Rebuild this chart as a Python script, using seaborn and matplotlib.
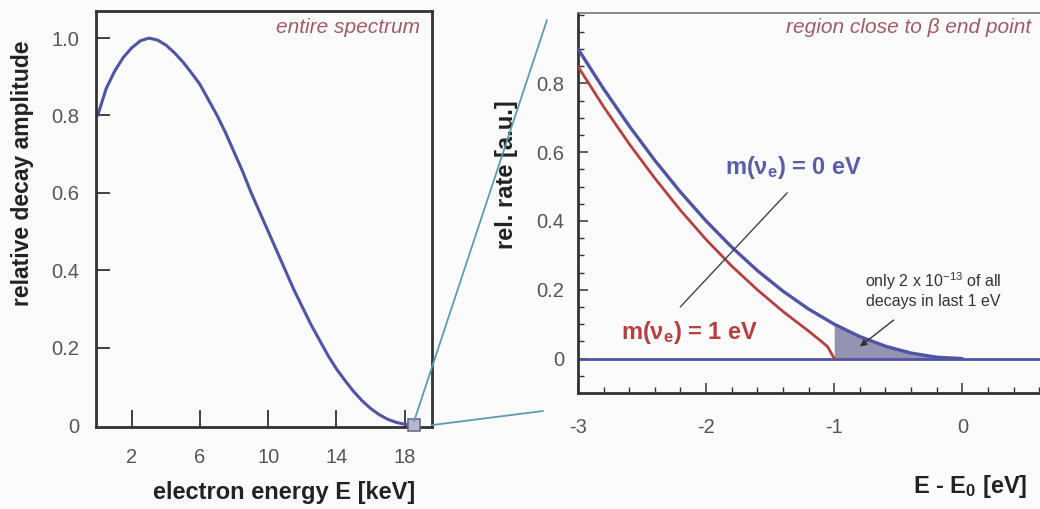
import numpy as np
import pandas as pd
import matplotlib
matplotlib.use("Agg")
import matplotlib.pyplot as plt
import seaborn as sns
from matplotlib.patches import ConnectionPatch
from matplotlib.ticker import MultipleLocator, FuncFormatter

# ---------------- data ----------------
energy_keV = [0.0, 0.5, 1.0, 1.5, 2.0, 2.5, 3.0, 3.5, 4.0, 4.5, 5.0, 5.5, 6.0, 6.5,
              7.0, 7.5, 8.0, 8.5, 9.0, 9.5, 10.0, 10.5, 11.0, 11.5, 12.0, 12.5,
              13.0, 13.5, 14.0, 14.5, 15.0, 15.5, 16.0, 16.5, 17.0, 17.5, 18.0, 18.6]
amplitude = [0.80, 0.87, 0.915, 0.95, 0.975, 0.993, 1.0, 0.995, 0.982, 0.962, 0.938,
             0.91, 0.88, 0.84, 0.80, 0.755, 0.705, 0.655, 0.60, 0.55, 0.50, 0.45,
             0.40, 0.35, 0.305, 0.26, 0.22, 0.18, 0.145, 0.115, 0.087, 0.063, 0.043,
             0.027, 0.015, 0.007, 0.002, 0.0]

dE_m0 = [-3.0, -2.8, -2.6, -2.4, -2.2, -2.0, -1.8, -1.6, -1.4, -1.2, -1.0, -0.8,
         -0.6, -0.4, -0.2, 0.0]
rate_m0 = [0.90, 0.784, 0.676, 0.576, 0.484, 0.40, 0.324, 0.256, 0.196, 0.144,
           0.10, 0.064, 0.036, 0.016, 0.004, 0.0]

dE_m1 = [-3.0, -2.8, -2.6, -2.4, -2.2, -2.0, -1.8, -1.6, -1.4, -1.2, -1.1, -1.05, -1.0]
rate_m1 = [0.849, 0.732, 0.624, 0.524, 0.431, 0.346, 0.269, 0.20, 0.137, 0.08,
           0.05, 0.034, 0.0]

endpoint_keV = 18.55
left_xticks = [2, 6, 10, 14, 18]
left_yticks = [0, 0.2, 0.4, 0.6, 0.8, 1.0]
right_xticks = [-3, -2, -1, 0]
right_yticks = [0, 0.2, 0.4, 0.6, 0.8]

# ---------------- styling ----------------
sns.set_theme(style="ticks")
plt.rcParams["font.family"] = ["Liberation Sans", "DejaVu Sans"]
plt.rcParams["mathtext.fontset"] = "custom"
plt.rcParams["mathtext.rm"] = "Liberation Sans"
plt.rcParams["mathtext.bf"] = "Liberation Sans:bold"
plt.rcParams["mathtext.it"] = "Liberation Sans:italic"

BLUE = "#4f55a3"
RED = "#b5403f"
SHADE = "#9494b2"
FRAME = "#333333"
TICKC = "#555555"
TITLEC = "#a05a68"
ZOOMC = "#5d9bb3"
BG = "#fbfbfb"

W, H = 1040, 509
fig = plt.figure(figsize=(W / 100, H / 100), dpi=100, facecolor=BG)

def fx(px):
    return px / W

def fy(py):
    return 1 - py / H

axL = fig.add_axes([fx(96), fy(427), fx(432) - fx(96), fy(11) - fy(427)], facecolor=BG)
axR = fig.add_axes([fx(578), fy(393), fx(1052) - fx(578), fy(12.5) - fy(393)], facecolor=BG)

# ---- left panel ----
dfL = pd.DataFrame({"E": energy_keV, "A": amplitude})
sns.lineplot(data=dfL, x="E", y="A", ax=axL, color=BLUE, lw=2.2)
axL.plot([endpoint_keV], [0], marker="s", ms=8, mfc="#b8b8cc", mec="#6a6a90", mew=1.2,
         clip_on=False, zorder=5)
axL.set_xlim(-0.1, 19.6)
axL.set_ylim(-0.005, 1.07)
axL.set_xticks(left_xticks)
axL.set_yticks(left_yticks)
axL.yaxis.set_major_formatter(FuncFormatter(lambda v, p: "0" if v == 0 else f"{v:.1f}"))
axL.tick_params(axis="x", direction="in", length=12, width=1.3, color=FRAME,
                labelsize=14.5, labelcolor=TICKC, pad=15)
axL.tick_params(axis="y", direction="in", length=10, width=1.3, color=FRAME,
                labelsize=14.5, labelcolor=TICKC, pad=12)
axL.yaxis.get_major_ticks()[0].tick1line.set_visible(False)
axL.set_xlabel("")
axL.set_ylabel("")
for s in axL.spines.values():
    s.set_color(FRAME)
    s.set_linewidth(2.0)
axL.text(0.965, 0.96, "entire spectrum", transform=axL.transAxes, ha="right",
         va="center", style="italic", fontsize=15, color=TITLEC)

# ---- right panel ----
dfR0 = pd.DataFrame({"dE": dE_m0, "r": rate_m0})
dfR1 = pd.DataFrame({"dE": dE_m1, "r": rate_m1})
shade = dfR0[dfR0["dE"] >= -1.0]
axR.fill_between(shade["dE"], shade["r"], 0, color=SHADE, lw=0, zorder=1)
axR.axhline(0, color=BLUE, lw=2.0, zorder=2)
sns.lineplot(data=dfR1, x="dE", y="r", ax=axR, color=RED, lw=2.0, zorder=3)
sns.lineplot(data=dfR0, x="dE", y="r", ax=axR, color=BLUE, lw=2.4, zorder=4)
axR.set_xlim(-3.0, 0.7)
axR.set_ylim(-0.1, 1.006)
axR.set_xticks(right_xticks)
axR.set_yticks(right_yticks)
axR.xaxis.set_minor_locator(MultipleLocator(0.2))
axR.yaxis.set_minor_locator(MultipleLocator(0.05))
axR.yaxis.set_major_formatter(FuncFormatter(lambda v, p: "0" if v == 0 else f"{v:.1f}"))
axR.xaxis.set_major_formatter(FuncFormatter(lambda v, p: f"{v:.0f}"))
axR.tick_params(axis="both", which="major", direction="in", length=7, width=1.1,
                color=FRAME, labelsize=14.5, labelcolor=TICKC)
axR.tick_params(axis="both", which="minor", direction="in", length=4, width=1.0,
                color=FRAME)
axR.tick_params(axis="x", which="major", pad=18)
axR.tick_params(axis="y", which="major", pad=10)
axR.set_xlabel("")
axR.set_ylabel("")
for s in axR.spines.values():
    s.set_color(FRAME)
    s.set_linewidth(2.0)
axR.spines["top"].set_color("#777777")
axR.spines["top"].set_linewidth(1.2)

axR.text(0.537, 0.961, "region close to β end point", ha="right", va="center",
         style="italic", fontsize=15, color=TITLEC)
axR.text(-1.318, 0.556, r"m($\mathbf{\nu_e}$) = 0 eV", ha="center", va="center",
         fontsize=17, fontweight="bold", color="#5a5ea8")
axR.text(-2.131, 0.0765, r"m($\mathbf{\nu_e}$) = 1 eV", ha="center", va="center",
         fontsize=17, fontweight="bold", color=RED)
axR.plot([-1.367, -2.202], [0.482, 0.150], color="#444444", lw=1.0, zorder=6)
axR.text(-0.23, 0.20, "only 2 x 10$^{-13}$ of all\ndecays in last 1 eV", ha="center",
         va="center", fontsize=11.5, color="#333333", linespacing=1.15)
axR.annotate("", xy=(-0.817, 0.03), xytext=(-0.519, 0.117),
             arrowprops=dict(arrowstyle="-|>", color="#333333", lw=1.0,
                             mutation_scale=10), zorder=6)

# ---- zoom connector lines ----
con1 = ConnectionPatch(xyA=(endpoint_keV, 0.01), coordsA=axL.transData,
                       xyB=(fx(547), fy(20)), coordsB=fig.transFigure,
                       color=ZOOMC, lw=1.3, zorder=10)
con2 = ConnectionPatch(xyA=(19.6, 0.0), coordsA=axL.transData,
                       xyB=(fx(543), fy(411)), coordsB=fig.transFigure,
                       color=ZOOMC, lw=1.3, zorder=10)
fig.add_artist(con1)
fig.add_artist(con2)

# ---- axis titles ----
fig.text(fx(23), fy(173), "relative decay amplitude", rotation=90, ha="center",
         va="center", fontsize=16.5, fontweight="bold", color="#222222")
fig.text(fx(284), fy(493), "electron energy E [keV]", ha="center", va="center",
         fontsize=17, fontweight="bold", color="#222222")
fig.text(fx(507), fy(175), "rel. rate [a.u.]", rotation=90, ha="center", va="center",
         fontsize=17, fontweight="bold", color="#222222")
fig.text(fx(970), fy(486), r"E - E$_\mathbf{0}$ [eV]", ha="center", va="center",
         fontsize=17, fontweight="bold", color="#222222")

fig.savefig("out.png", dpi=100, facecolor=BG)
